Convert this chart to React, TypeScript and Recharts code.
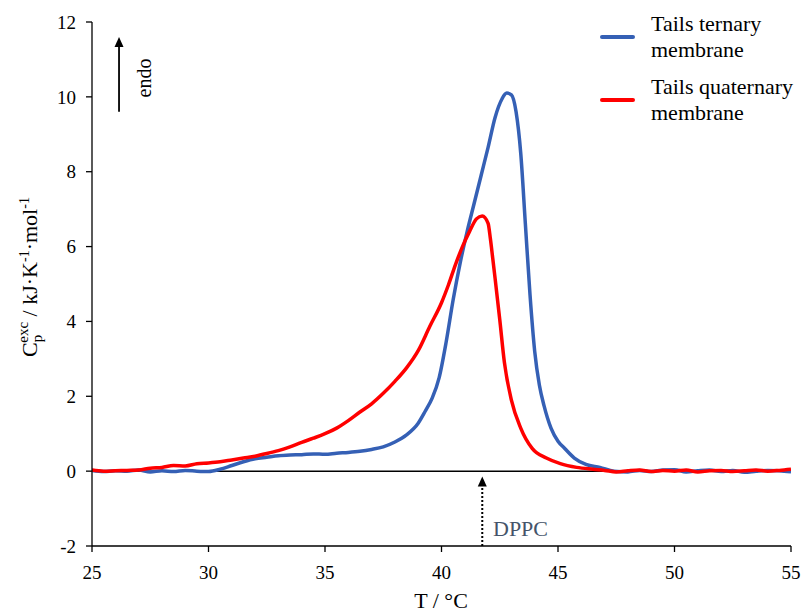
import React from 'react';
import {
  LineChart,
  Line,
  XAxis,
  YAxis,
  ReferenceLine,
  ReferenceDot,
} from 'recharts';

// Excess heat capacity scans, T in °C, Cp in kJ/K/mol
const ternaryT = [
  25, 25.5, 26, 26.5, 27, 27.5, 28, 28.5, 29, 29.5, 30, 30.5, 31, 31.5, 32, 32.5,
  33, 33.5, 34, 34.5, 35, 35.5, 36, 36.5, 37, 37.5, 38, 38.5, 39, 39.3, 39.6, 39.9,
  40.2, 40.5, 40.8, 41.1, 41.4, 41.7, 42, 42.3, 42.6, 42.8, 43, 43.2, 43.4, 43.6,
  43.8, 44, 44.2, 44.4, 44.7, 45, 45.3, 45.7, 46.2, 46.8, 47.4, 48, 48.5, 49, 49.5,
  50, 50.5, 51, 51.5, 52, 52.5, 53, 53.5, 54, 54.5, 55,
];
const ternaryCp = [
  0.02, -0.01, 0.01, 0.0, 0.03, -0.02, 0.01, -0.01, 0.02, 0.0, -0.01, 0.05, 0.15, 0.25, 0.33, 0.37,
  0.41, 0.43, 0.44, 0.46, 0.45, 0.48, 0.5, 0.53, 0.58, 0.65, 0.78, 0.97, 1.28, 1.6, 1.95, 2.5,
  3.45, 4.58, 5.56, 6.4, 7.15, 7.9, 8.65, 9.45, 9.95, 10.1, 10.05, 9.6, 8.5, 6.6,
  4.7, 3.2, 2.3, 1.75, 1.15, 0.8, 0.6, 0.35, 0.18, 0.1, 0.0, -0.02, 0.02, -0.01, 0.03,
  0.04, -0.02, 0.01, 0.03, -0.01, 0.02, -0.03, 0.0, 0.02, 0.01, -0.02,
];

const quaternaryT = [
  25, 25.5, 26, 26.5, 27, 27.5, 28, 28.5, 29, 29.5, 30, 30.5, 31, 31.5, 32, 32.5,
  33, 33.5, 34, 34.5, 35, 35.5, 36, 36.5, 37, 37.5, 38, 38.5, 39, 39.5, 40, 40.3,
  40.6, 40.9, 41.2, 41.5, 41.75, 42, 42.1, 42.2, 42.3, 42.5, 42.7, 43, 43.4, 43.9,
  44.5, 45.1, 45.8, 46.5, 47, 47.5, 48, 48.5, 49, 49.5, 50, 50.5, 51, 51.5, 52,
  52.5, 53, 53.5, 54, 54.5, 55,
];
const quaternaryCp = [
  0.03, 0.0, 0.01, 0.02, 0.03, 0.08, 0.1, 0.15, 0.14, 0.2, 0.22, 0.25, 0.3, 0.35, 0.4, 0.47,
  0.55, 0.65, 0.77, 0.88, 1.0, 1.15, 1.35, 1.58, 1.8, 2.08, 2.4, 2.76, 3.22, 3.87, 4.5, 4.98,
  5.52, 6.0, 6.4, 6.74, 6.82, 6.62, 6.2, 5.68, 5.15, 4.05, 2.9, 1.9, 1.15, 0.6,
  0.35, 0.2, 0.1, 0.05, 0.02, -0.02, 0.01, 0.03, -0.01, 0.02, 0.0, 0.03, -0.02, 0.01, 0.02,
  -0.01, 0.01, 0.03, 0.0, 0.02, 0.05,
];

const xTicks = [25, 30, 35, 40, 45, 50, 55];
const yTicks = [-2, 0, 2, 4, 6, 8, 10, 12];

const seriesNames = ['Tails ternary membrane', 'Tails quaternary membrane'];
const dppcTm = 41.75;
const endoArrow = { t: 26.16, from: 9.6, to: 11.6 };

const BLUE = '#3560b5';
const RED = '#ff0000';
const FONT = '"Times New Roman", "Liberation Serif", "DejaVu Serif", Times, serif';

const ternary = ternaryT.map((t, i) => ({ t, cp: ternaryCp[i] }));
const quaternary = quaternaryT.map((t, i) => ({ t, cp: quaternaryCp[i] }));

// small filled triangle used as an arrow head
const ArrowHead = (props: any) => {
  const { cx, cy } = props;
  if (cx == null || cy == null) return null;
  return <path d={`M${cx},${cy} L${cx - 4.5},${cy + 10} L${cx + 4.5},${cy + 10} Z`} fill="#000" />;
};

const LegendBlock = ({ color, lines, top }: { color: string; lines: string[]; top: number }) => (
  <div style={{ position: 'absolute', left: 600, top, display: 'flex', alignItems: 'center' }}>
    <div style={{ width: 35, height: 4, borderRadius: 2, background: color, marginRight: 16 }} />
    <div style={{ fontFamily: FONT, fontSize: 22, lineHeight: '26px', color: '#000' }}>
      {lines.map((l) => (
        <div key={l}>{l}</div>
      ))}
    </div>
  </div>
);

export default function App() {
  return (
    <div
      style={{
        position: 'absolute',
        left: 0,
        top: 0,
        width: 804,
        height: 613,
        background: '#fff',
        fontFamily: FONT,
      }}
    >
      <LineChart
        width={804}
        height={613}
        margin={{ top: 22, right: 13, left: 32, bottom: 37 }}
        style={{ fontFamily: FONT }}
      >
        <XAxis
          dataKey="t"
          type="number"
          domain={[25, 55]}
          ticks={xTicks}
          allowDataOverflow
          height={30}
          stroke="#000"
          strokeWidth={1.3}
          tickSize={6}
          tickMargin={14}
          tick={{ fill: '#000', fontSize: 19, fontFamily: FONT }}
        />
        <YAxis
          type="number"
          domain={[-2, 12]}
          ticks={yTicks}
          allowDataOverflow
          width={60}
          stroke="#000"
          strokeWidth={1.3}
          tickSize={6}
          tickMargin={10}
          tick={{ fill: '#000', fontSize: 19, fontFamily: FONT }}
        />
        <ReferenceLine y={0} stroke="#000" strokeWidth={1.5} />
        <Line
          data={ternary}
          dataKey="cp"
          name={seriesNames[0]}
          type="monotone"
          stroke={BLUE}
          strokeWidth={3.5}
          dot={false}
          isAnimationActive={false}
        />
        <Line
          data={quaternary}
          dataKey="cp"
          name={seriesNames[1]}
          type="monotone"
          stroke={RED}
          strokeWidth={3.5}
          dot={false}
          isAnimationActive={false}
        />
        {/* DPPC main transition marker */}
        <ReferenceLine
          segment={[{ x: dppcTm, y: -2 }, { x: dppcTm, y: -0.35 }]}
          stroke="#000"
          strokeWidth={2}
          strokeDasharray="2 2"
        />
        <ReferenceDot x={dppcTm} y={-0.14} shape={ArrowHead} />
        {/* endothermic direction */}
        <ReferenceLine
          segment={[{ x: endoArrow.t, y: endoArrow.from }, { x: endoArrow.t, y: endoArrow.to - 0.2 }]}
          stroke="#000"
          strokeWidth={1.8}
        />
        <ReferenceDot x={endoArrow.t} y={endoArrow.to} shape={ArrowHead} />
      </LineChart>

      <svg
        width={804}
        height={613}
        style={{ position: 'absolute', left: 0, top: 0, pointerEvents: 'none', fontFamily: FONT }}
      >
        <text transform="rotate(-90)" x={-277} y={37} textAnchor="middle" fontSize={22} fill="#000">
          C
          <tspan fontSize={15} dy={5}>p</tspan>
          <tspan fontSize={15} dx={-8} dy={-14}>exc</tspan>
          <tspan fontSize={22} dy={9}> / kJ·K</tspan>
          <tspan fontSize={14} dy={-8}>-1</tspan>
          <tspan fontSize={22} dy={8}>·mol</tspan>
          <tspan fontSize={14} dy={-8}>-1</tspan>
        </text>
        <text x={441} y={608} textAnchor="middle" fontSize={22} fill="#000">
          T / °C
        </text>
        <text transform="rotate(-90)" x={-78} y={151} textAnchor="middle" fontSize={20} fill="#000">
          endo
        </text>
        <text x={493} y={536} fontSize={22} fill="#44546a">
          DPPC
        </text>
      </svg>

      <LegendBlock color={BLUE} lines={['Tails ternary', 'membrane']} top={11} />
      <LegendBlock color={RED} lines={['Tails quaternary', 'membrane']} top={74} />
    </div>
  );
}
